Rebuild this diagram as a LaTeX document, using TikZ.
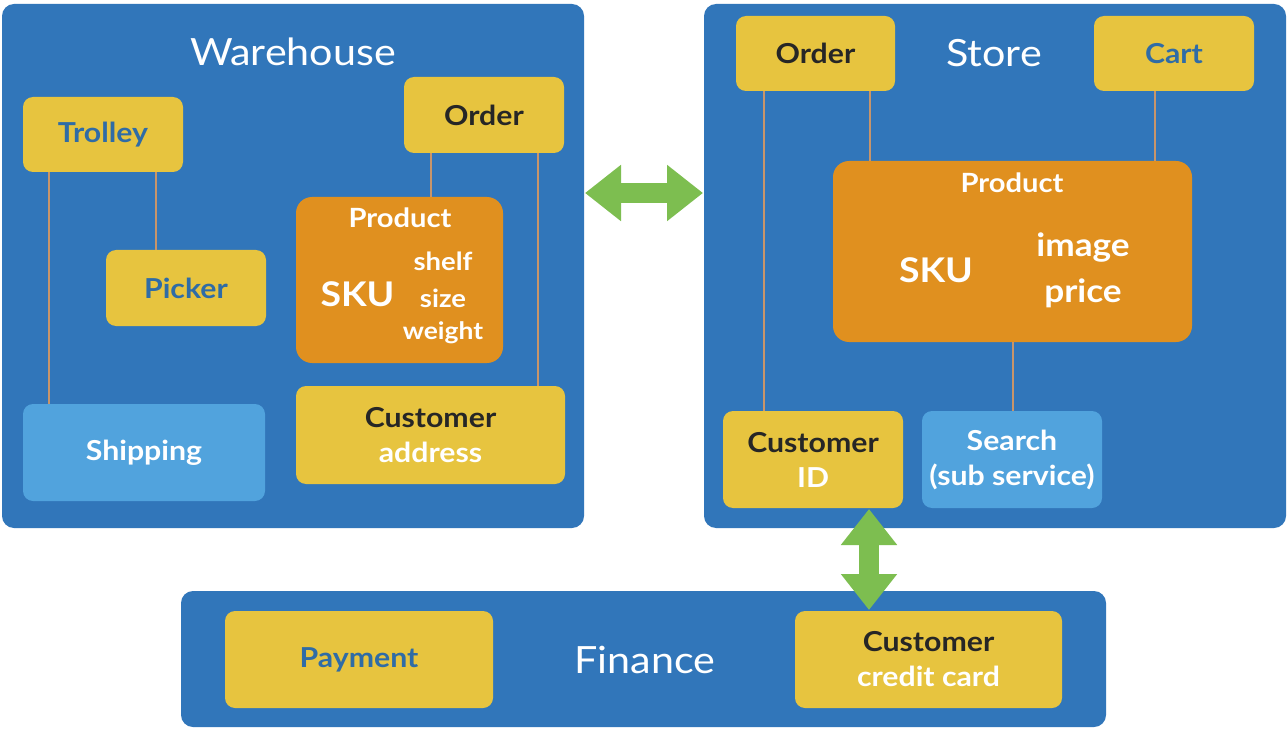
\documentclass[tikz,border=0pt]{standalone}
\usepackage{fontspec}
\setmainfont{Lato}[FakeStretch=1.1]
\usetikzlibrary{arrows.meta}
\definecolor{panel}{HTML}{3176BA}
\definecolor{gold}{HTML}{E7C43F}
\definecolor{orng}{HTML}{E0901F}
\definecolor{lblue}{HTML}{51A3DD}
\definecolor{connc}{HTML}{C8956A}
\definecolor{grn}{HTML}{7DBE50}
\definecolor{darktxt}{HTML}{262626}
\definecolor{bluetxt}{HTML}{2F6CA6}
\tikzset{
  panelbox/.style={fill=panel, rounded corners=12pt, inner sep=0pt},
  ybox/.style={fill=gold, rounded corners=10pt, inner sep=0pt, align=center,
    font=\fontsize{27.5}{35}\selectfont\bfseries},
  obox/.style={fill=orng, rounded corners=16pt, inner sep=0pt},
  lbox/.style={fill=lblue, rounded corners=10pt, inner sep=0pt, align=center, text=white,
    font=\fontsize{27.5}{35}\selectfont\bfseries},
  ptitle/.style={text=white, inner sep=0pt, font=\fontsize{37.5}{42}\selectfont},
  ptxt/.style={text=white, inner sep=0pt, anchor=base, font=\fontsize{#1}{#1}\selectfont\bfseries},
  conn/.style={draw=connc, line width=2pt},
  bigarrow/.style={draw=grn, line width=20pt,
    {Triangle[length=36pt,width=54pt]}-{Triangle[length=36pt,width=54pt]}},
}
\begin{document}
\begin{tikzpicture}[x=1pt,y=-1pt]
\useasboundingbox[fill=white] (0,0) rectangle (1288,730);
% panels
\node[panelbox, minimum width=582pt, minimum height=524pt] (warehouse) at (293,266) {};
\node[panelbox, minimum width=582pt, minimum height=524pt] (store) at (995,266) {};
\node[panelbox, minimum width=925pt, minimum height=136pt] (finance) at (643.5,659) {};
\node[ptitle] (wtitle) at (293,52) {Warehouse};
\node[ptitle] (stitle) at (994,53) {Store};
\node[ptitle] (ftitle) at (645,660) {Finance};
% warehouse
\node[ybox, minimum width=160pt, minimum height=75pt, text=bluetxt] (trolley) at (103,134.5) {Trolley};
\node[ybox, minimum width=160pt, minimum height=76pt, text=bluetxt] (picker) at (186,288) {Picker};
\node[lbox, minimum width=242pt, minimum height=97pt] (shipping) at (144,452.5) {Shipping};
\node[ybox, minimum width=160pt, minimum height=76pt, text=darktxt] (worder) at (484,115) {Order};
\node[obox, minimum width=207pt, minimum height=166pt] (wproduct) at (399.5,280) {};
\node[ptxt=26.5] (wpname) at (400,228) {Product};
\node[ptxt=34] (wsku) at (357.5,306) {SKU};
\node[ptxt=25] (wshelf) at (443,270) {shelf};
\node[ptxt=25] (wsize) at (443,307) {size};
\node[ptxt=24] (wweight) at (443,339) {weight};
\node[ybox, minimum width=269pt, minimum height=98pt] (caddr) at (430.5,435)
  {\textcolor{darktxt}{Customer}\\\textcolor{white}{address}};
\draw[conn] ([xshift=-54pt]trolley.south) -- ([xshift=-54pt]trolley.south |- shipping.north);
\draw[conn] ([xshift=53pt]trolley.south) -- ([xshift=53pt]trolley.south |- picker.north);
\draw[conn] ([xshift=-53pt]worder.south) -- ([xshift=-53pt]worder.south |- wproduct.north);
\draw[conn] ([xshift=54pt]worder.south) -- ([xshift=54pt]worder.south |- caddr.north);
% store
\node[ybox, minimum width=159pt, minimum height=75pt, text=darktxt] (sorder) at (815.5,53.5) {Order};
\node[ybox, minimum width=160pt, minimum height=75pt, text=bluetxt] (cart) at (1174,53.5) {Cart};
\node[obox, minimum width=359pt, minimum height=181pt] (sproduct) at (1012.5,251.5) {};
\node[ptxt=26.5] (spname) at (1012,193) {Product};
\node[ptxt=34] (ssku) at (936,282) {SKU};
\node[ptxt=32] (simage) at (1083,257) {image};
\node[ptxt=32] (sprice) at (1083,302) {price};
\node[ybox, minimum width=180pt, minimum height=97pt] (custid) at (813,459.5)
  {\textcolor{darktxt}{Customer}\\\textcolor{white}{ID}};
\node[lbox, minimum width=180pt, minimum height=97pt] (search) at (1012,459.5)
  {Search\\(sub service)};
\draw[conn] ([xshift=-52pt]sorder.south) -- ([xshift=-52pt]sorder.south |- custid.north);
\draw[conn] ([xshift=54.5pt]sorder.south) -- ([xshift=54.5pt]sorder.south |- sproduct.north);
\draw[conn] ([xshift=-19pt]cart.south) -- ([xshift=-19pt]cart.south |- sproduct.north);
\draw[conn] (sproduct.south) -- (sproduct.south |- search.north);
% finance
\node[ybox, minimum width=268pt, minimum height=97pt, text=bluetxt] (payment) at (359,659.5) {Payment};
\node[ybox, minimum width=267pt, minimum height=97pt] (ccard) at (928.5,659.5)
  {\textcolor{darktxt}{Customer}\\\textcolor{white}{credit card}};
% big arrows
\coordinate (ha) at (585,193);
\coordinate (hb) at (703,193);
\draw[bigarrow] (ha) -- (hb);
\coordinate (va) at (869,509);
\coordinate (vb) at (869,610);
\draw[bigarrow] (va) -- (vb);
\end{tikzpicture}
\end{document}
